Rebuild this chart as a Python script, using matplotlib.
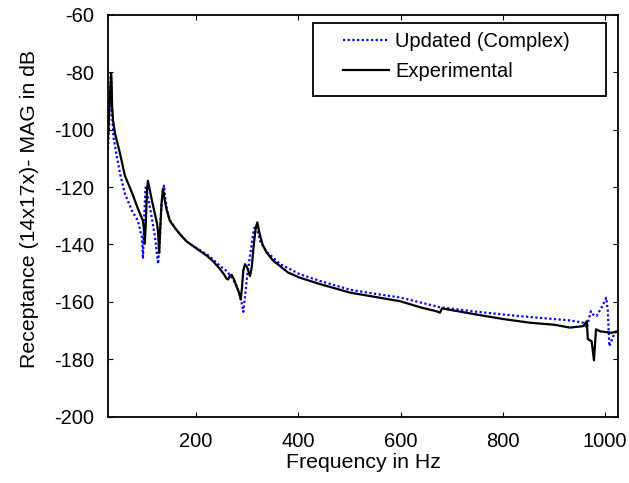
import matplotlib
matplotlib.use("Agg")
import matplotlib.pyplot as plt
from matplotlib.patches import Rectangle

plt.rcParams['font.family'] = ['Liberation Sans', 'DejaVu Sans']

# Experimental (black solid)
exp_f = [28, 30, 32, 34, 35, 36, 38, 41.7, 51.5, 61, 75, 86.6, 96.4, 98.5, 100, 102, 104, 106, 108,
         114, 124, 126, 128, 130, 132.5, 135.5, 138, 142, 149, 160, 169, 182, 194, 208, 221.5, 233,
         247, 255, 260, 263, 266, 270, 275, 280, 284.5, 287.5, 290, 292.5, 295.8, 300, 305.6, 309,
         313, 317, 320, 324, 330, 338, 350, 364, 380, 403, 442, 501, 550, 599, 640, 670, 677,
         681, 690, 750, 800, 853, 900, 931, 957, 964, 966, 973.5, 978, 982, 990, 1013, 1024]
exp_db = [-102.7, -95, -88, -80.3, -83, -92, -97, -101.3, -108.3, -116, -122, -127.6, -131.8, -135,
          -139.8, -132, -122, -117.8, -119.5, -124.8, -132.8, -136, -143, -135, -126, -120.6, -123.5,
          -127.5, -131.8, -134.5, -136.5, -139, -140.5, -142.3, -144, -145.8, -148.6, -150.5, -152,
          -152.2, -151, -150.6, -152.5, -155, -157, -159.2, -155, -149, -146.9, -148, -151, -148,
          -140, -134, -132.3, -136, -140, -142.8, -145.5, -147.5, -149.8, -151.6, -153.8, -156.8,
          -158.3, -159.8, -162, -163.3, -163.8, -162.3, -162.6, -164.5, -166, -167.3, -168, -169,
          -168.5, -166.8, -173, -173.8, -180.4, -169.6, -170.3, -170.8, -170.3]

# Updated (Complex) (blue dotted)
upd_f = [28, 30, 32, 33.5, 35, 36.5, 39, 45.6, 51.5, 61, 75, 86.6, 94.5, 96.4, 99, 101, 102.5, 105,
         112, 120, 126, 129, 132, 135, 137.5, 140, 145, 150, 160, 169, 182, 194, 208, 221.5, 233,
         247, 260, 270, 278, 284, 289, 292.5, 296, 300, 304, 308, 312, 315.4, 320, 326, 338, 364,
         403, 442, 501, 550, 599, 677, 750, 833, 931, 957, 964, 968, 972, 976, 983, 993, 1002,
         1005, 1006, 1008, 1013, 1018, 1022, 1025]
upd_db = [-106.6, -99, -90, -80.3, -86, -96, -103, -109.7, -115.3, -122.3, -128.3, -131.8, -137.7,
          -145, -130, -121, -119.5, -122.5, -129, -137.5, -146.8, -139, -128, -121.5, -119.5, -124,
          -129.5, -131.8, -134.5, -136.5, -139, -140.5, -142, -143.5, -145.2, -147.5, -149.3,
          -151.5, -154, -156.5, -160, -163.5, -158, -151, -146, -141, -136, -133.5, -135, -139,
          -142.5, -146.8, -150.4, -152.7, -155.8, -157.2, -158.5, -161.9, -163.5, -165, -166.5,
          -167.3, -169.1, -166, -163.3, -164.4, -165, -162, -158.6, -163, -166.8, -175.5, -173.2,
          -171, -170.3, -170]

xticks = [200, 400, 600, 800, 1000]
yticks = [-200, -180, -160, -140, -120, -100, -80, -60]

FS = 14.5
LFS = 15.3
W, H = 629, 483
fig = plt.figure(figsize=(W/100, H/100), dpi=100)
L, R, T, B = 108, 618, 15, 416.5
ax = fig.add_axes([L/W, 1 - B/H, (R-L)/W, (B-T)/H])

ax.plot(upd_f, upd_db, color='#0000ff', linestyle=(0, (1, 1.1)), linewidth=1.6,
        label='Updated (Complex)')
ax.plot(exp_f, exp_db, color='black', linestyle='-', linewidth=1.6, label='Experimental')

ax.set_xlim(28, 1025)
ax.set_ylim(-200, -60)
ax.set_xticks(xticks)
ax.set_xticklabels([str(t) for t in xticks])
ax.set_yticks(yticks)
ax.set_yticklabels([str(t) for t in yticks])
ax.tick_params(direction='in', top=True, right=True, labelsize=FS, length=3.6, width=0.8)
ax.tick_params(axis='x', pad=11.3)
ax.tick_params(axis='y', pad=9.9)
for s in ax.spines.values():
    s.set_linewidth(1.3)

ax.set_xlabel('Frequency in Hz', fontsize=LFS, labelpad=1.5)
ax.set_ylabel('Receptance (14x17x)- MAG in dB', fontsize=LFS)
ax.yaxis.set_label_coords((39 - L)/(R - L), (B - 208.5)/(B - T))

# legend frame (MATLAB style, wide padding)
bx0, bx1, by0, by1 = 313, 606, 23, 96
ax.add_patch(Rectangle(((bx0 - L)/(R - L), 1 - (by1 - T)/(B - T)),
                       (bx1 - bx0)/(R - L), (by1 - by0)/(B - T),
                       transform=ax.transAxes, facecolor='white', edgecolor='black',
                       linewidth=1.3, zorder=4))
leg = ax.legend(loc='upper left', bbox_to_anchor=((343 - L)/(R - L), 1 - (32 - T)/(B - T)),
                fontsize=FS, frameon=False, borderpad=0, borderaxespad=0,
                handlelength=2.3, handletextpad=0.3, labelspacing=0.55)
leg.set_zorder(5)

fig.savefig('out.png', dpi=100)
